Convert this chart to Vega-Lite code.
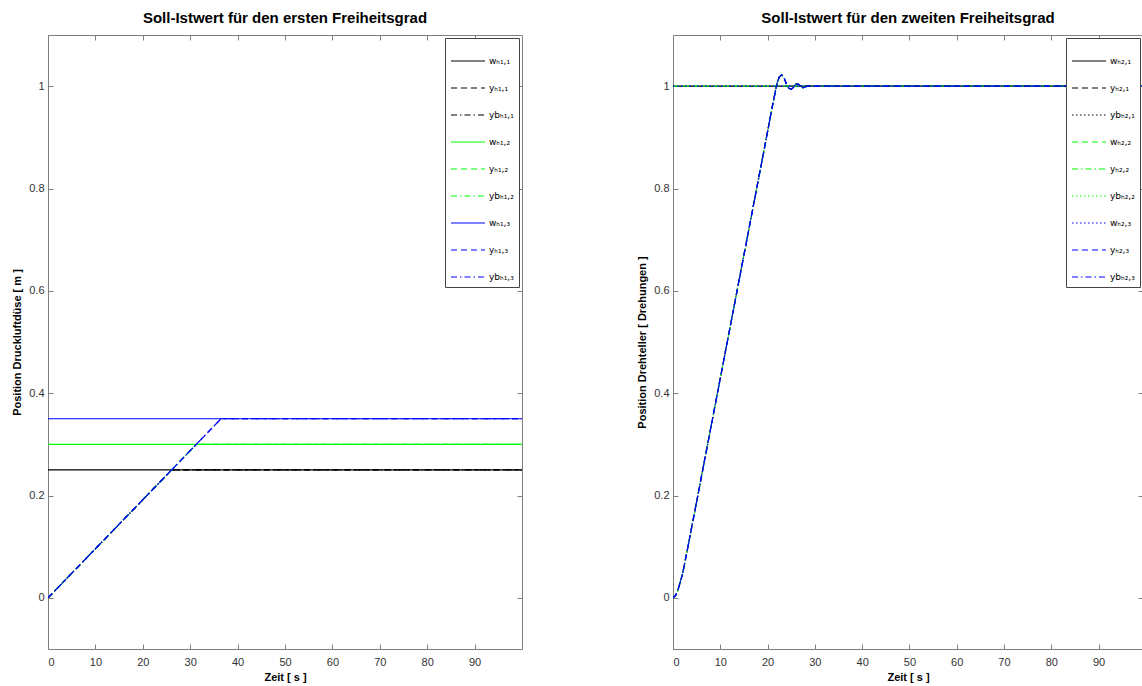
{
  "$schema": "https://vega.github.io/schema/vega-lite/v6.json",
  "background": "white",
  "padding": {"left": 11, "top": 10, "right": 0, "bottom": 0},
  "spacing": 113,
  "config": {
    "font": "Liberation Sans",
    "view": {"stroke": "#7f7f7f", "strokeWidth": 1},
    "axis": {"domain": false, "grid": false, "labelFont": "Liberation Sans", "labelFontSize": 11, "labelColor": "#333333", "tickColor": "#7f7f7f", "tickSize": -5, "labelPadding": 9, "titleFont": "Liberation Sans", "titleFontSize": 11, "titleFontWeight": "bold", "titleColor": "#000000", "titlePadding": 6},
    "axisX": {"labelPadding": 12, "titlePadding": 4},
    "title": {"fontSize": 15, "fontWeight": "bold", "font": "Liberation Sans", "color": "#000000", "offset": 9},
    "legend": {"orient": "top-right", "offset": 3, "symbolType": "stroke", "symbolSize": 1156, "symbolStrokeWidth": 1.2, "symbolOpacity": 1, "labelFont": "DejaVu Sans", "labelFontSize": 9, "labelColor": "#000000", "strokeColor": "#444444", "fillColor": "white", "padding": 5, "rowPadding": 4, "labelOffset": 3}
  },
  "datasets": {
    "left": [
      {"s": "wₕ₁,₁", "t": 0, "v": 0.25}, {"s": "wₕ₁,₁", "t": 100, "v": 0.25},
      {"s": "yₕ₁,₁", "t": 0, "v": 0}, {"s": "yₕ₁,₁", "t": 26.1, "v": 0.25}, {"s": "yₕ₁,₁", "t": 100, "v": 0.25},
      {"s": "ybₕ₁,₁", "t": 0, "v": 0}, {"s": "ybₕ₁,₁", "t": 26.1, "v": 0.25}, {"s": "ybₕ₁,₁", "t": 100, "v": 0.25},
      {"s": "wₕ₁,₂", "t": 0, "v": 0.3}, {"s": "wₕ₁,₂", "t": 100, "v": 0.3},
      {"s": "yₕ₁,₂", "t": 0, "v": 0}, {"s": "yₕ₁,₂", "t": 31.3, "v": 0.3}, {"s": "yₕ₁,₂", "t": 100, "v": 0.3},
      {"s": "ybₕ₁,₂", "t": 0, "v": 0}, {"s": "ybₕ₁,₂", "t": 31.3, "v": 0.3}, {"s": "ybₕ₁,₂", "t": 100, "v": 0.3},
      {"s": "wₕ₁,₃", "t": 0, "v": 0.35}, {"s": "wₕ₁,₃", "t": 100, "v": 0.35},
      {"s": "yₕ₁,₃", "t": 0, "v": 0}, {"s": "yₕ₁,₃", "t": 36.5, "v": 0.35}, {"s": "yₕ₁,₃", "t": 100, "v": 0.35},
      {"s": "ybₕ₁,₃", "t": 0, "v": 0}, {"s": "ybₕ₁,₃", "t": 36.5, "v": 0.35}, {"s": "ybₕ₁,₃", "t": 100, "v": 0.35}
    ],
    "right": [
      {"s": "wₕ₂,₁", "t": 0, "v": 1}, {"s": "wₕ₂,₁", "t": 100, "v": 1},
      {"s": "wₕ₂,₂", "t": 0, "v": 1}, {"s": "wₕ₂,₂", "t": 100, "v": 1},
      {"s": "wₕ₂,₃", "t": 0, "v": 1}, {"s": "wₕ₂,₃", "t": 100, "v": 1},
      {"s": "yₕ₂,₁", "t": 0, "v": 0}, {"s": "yₕ₂,₁", "t": 0.5, "v": 0.004}, {"s": "yₕ₂,₁", "t": 1, "v": 0.014}, {"s": "yₕ₂,₁", "t": 2, "v": 0.046}, {"s": "yₕ₂,₁", "t": 3, "v": 0.092}, {"s": "yₕ₂,₁", "t": 5, "v": 0.188}, {"s": "yₕ₂,₁", "t": 10, "v": 0.429}, {"s": "yₕ₂,₁", "t": 15, "v": 0.67}, {"s": "yₕ₂,₁", "t": 20, "v": 0.911}, {"s": "yₕ₂,₁", "t": 21, "v": 0.96}, {"s": "yₕ₂,₁", "t": 22, "v": 1.006}, {"s": "yₕ₂,₁", "t": 22.5, "v": 1.018}, {"s": "yₕ₂,₁", "t": 23, "v": 1.022}, {"s": "yₕ₂,₁", "t": 23.5, "v": 1.016}, {"s": "yₕ₂,₁", "t": 24, "v": 1.004}, {"s": "yₕ₂,₁", "t": 24.5, "v": 0.996}, {"s": "yₕ₂,₁", "t": 25, "v": 0.994}, {"s": "yₕ₂,₁", "t": 25.5, "v": 0.998}, {"s": "yₕ₂,₁", "t": 26, "v": 1.004}, {"s": "yₕ₂,₁", "t": 26.5, "v": 1.004}, {"s": "yₕ₂,₁", "t": 27, "v": 1.0}, {"s": "yₕ₂,₁", "t": 27.5, "v": 0.997}, {"s": "yₕ₂,₁", "t": 28, "v": 0.999}, {"s": "yₕ₂,₁", "t": 29, "v": 1.001}, {"s": "yₕ₂,₁", "t": 30, "v": 1.0}, {"s": "yₕ₂,₁", "t": 100, "v": 1.0},
      {"s": "ybₕ₂,₁", "t": 0, "v": 0}, {"s": "ybₕ₂,₁", "t": 0.5, "v": 0.004}, {"s": "ybₕ₂,₁", "t": 1, "v": 0.014}, {"s": "ybₕ₂,₁", "t": 2, "v": 0.046}, {"s": "ybₕ₂,₁", "t": 3, "v": 0.092}, {"s": "ybₕ₂,₁", "t": 5, "v": 0.188}, {"s": "ybₕ₂,₁", "t": 10, "v": 0.429}, {"s": "ybₕ₂,₁", "t": 15, "v": 0.67}, {"s": "ybₕ₂,₁", "t": 20, "v": 0.911}, {"s": "ybₕ₂,₁", "t": 21, "v": 0.96}, {"s": "ybₕ₂,₁", "t": 22, "v": 1.006}, {"s": "ybₕ₂,₁", "t": 22.5, "v": 1.018}, {"s": "ybₕ₂,₁", "t": 23, "v": 1.022}, {"s": "ybₕ₂,₁", "t": 23.5, "v": 1.016}, {"s": "ybₕ₂,₁", "t": 24, "v": 1.004}, {"s": "ybₕ₂,₁", "t": 24.5, "v": 0.996}, {"s": "ybₕ₂,₁", "t": 25, "v": 0.994}, {"s": "ybₕ₂,₁", "t": 25.5, "v": 0.998}, {"s": "ybₕ₂,₁", "t": 26, "v": 1.004}, {"s": "ybₕ₂,₁", "t": 26.5, "v": 1.004}, {"s": "ybₕ₂,₁", "t": 27, "v": 1.0}, {"s": "ybₕ₂,₁", "t": 27.5, "v": 0.997}, {"s": "ybₕ₂,₁", "t": 28, "v": 0.999}, {"s": "ybₕ₂,₁", "t": 29, "v": 1.001}, {"s": "ybₕ₂,₁", "t": 30, "v": 1.0}, {"s": "ybₕ₂,₁", "t": 100, "v": 1.0},
      {"s": "yₕ₂,₂", "t": 0, "v": 0}, {"s": "yₕ₂,₂", "t": 0.5, "v": 0.004}, {"s": "yₕ₂,₂", "t": 1, "v": 0.014}, {"s": "yₕ₂,₂", "t": 2, "v": 0.046}, {"s": "yₕ₂,₂", "t": 3, "v": 0.092}, {"s": "yₕ₂,₂", "t": 5, "v": 0.188}, {"s": "yₕ₂,₂", "t": 10, "v": 0.429}, {"s": "yₕ₂,₂", "t": 15, "v": 0.67}, {"s": "yₕ₂,₂", "t": 20, "v": 0.911}, {"s": "yₕ₂,₂", "t": 21, "v": 0.96}, {"s": "yₕ₂,₂", "t": 22, "v": 1.006}, {"s": "yₕ₂,₂", "t": 22.5, "v": 1.018}, {"s": "yₕ₂,₂", "t": 23, "v": 1.022}, {"s": "yₕ₂,₂", "t": 23.5, "v": 1.016}, {"s": "yₕ₂,₂", "t": 24, "v": 1.004}, {"s": "yₕ₂,₂", "t": 24.5, "v": 0.996}, {"s": "yₕ₂,₂", "t": 25, "v": 0.994}, {"s": "yₕ₂,₂", "t": 25.5, "v": 0.998}, {"s": "yₕ₂,₂", "t": 26, "v": 1.004}, {"s": "yₕ₂,₂", "t": 26.5, "v": 1.004}, {"s": "yₕ₂,₂", "t": 27, "v": 1.0}, {"s": "yₕ₂,₂", "t": 27.5, "v": 0.997}, {"s": "yₕ₂,₂", "t": 28, "v": 0.999}, {"s": "yₕ₂,₂", "t": 29, "v": 1.001}, {"s": "yₕ₂,₂", "t": 30, "v": 1.0}, {"s": "yₕ₂,₂", "t": 100, "v": 1.0},
      {"s": "ybₕ₂,₂", "t": 0, "v": 0}, {"s": "ybₕ₂,₂", "t": 0.5, "v": 0.004}, {"s": "ybₕ₂,₂", "t": 1, "v": 0.014}, {"s": "ybₕ₂,₂", "t": 2, "v": 0.046}, {"s": "ybₕ₂,₂", "t": 3, "v": 0.092}, {"s": "ybₕ₂,₂", "t": 5, "v": 0.188}, {"s": "ybₕ₂,₂", "t": 10, "v": 0.429}, {"s": "ybₕ₂,₂", "t": 15, "v": 0.67}, {"s": "ybₕ₂,₂", "t": 20, "v": 0.911}, {"s": "ybₕ₂,₂", "t": 21, "v": 0.96}, {"s": "ybₕ₂,₂", "t": 22, "v": 1.006}, {"s": "ybₕ₂,₂", "t": 22.5, "v": 1.018}, {"s": "ybₕ₂,₂", "t": 23, "v": 1.022}, {"s": "ybₕ₂,₂", "t": 23.5, "v": 1.016}, {"s": "ybₕ₂,₂", "t": 24, "v": 1.004}, {"s": "ybₕ₂,₂", "t": 24.5, "v": 0.996}, {"s": "ybₕ₂,₂", "t": 25, "v": 0.994}, {"s": "ybₕ₂,₂", "t": 25.5, "v": 0.998}, {"s": "ybₕ₂,₂", "t": 26, "v": 1.004}, {"s": "ybₕ₂,₂", "t": 26.5, "v": 1.004}, {"s": "ybₕ₂,₂", "t": 27, "v": 1.0}, {"s": "ybₕ₂,₂", "t": 27.5, "v": 0.997}, {"s": "ybₕ₂,₂", "t": 28, "v": 0.999}, {"s": "ybₕ₂,₂", "t": 29, "v": 1.001}, {"s": "ybₕ₂,₂", "t": 30, "v": 1.0}, {"s": "ybₕ₂,₂", "t": 100, "v": 1.0},
      {"s": "yₕ₂,₃", "t": 0, "v": 0}, {"s": "yₕ₂,₃", "t": 0.5, "v": 0.004}, {"s": "yₕ₂,₃", "t": 1, "v": 0.014}, {"s": "yₕ₂,₃", "t": 2, "v": 0.046}, {"s": "yₕ₂,₃", "t": 3, "v": 0.092}, {"s": "yₕ₂,₃", "t": 5, "v": 0.188}, {"s": "yₕ₂,₃", "t": 10, "v": 0.429}, {"s": "yₕ₂,₃", "t": 15, "v": 0.67}, {"s": "yₕ₂,₃", "t": 20, "v": 0.911}, {"s": "yₕ₂,₃", "t": 21, "v": 0.96}, {"s": "yₕ₂,₃", "t": 22, "v": 1.006}, {"s": "yₕ₂,₃", "t": 22.5, "v": 1.018}, {"s": "yₕ₂,₃", "t": 23, "v": 1.022}, {"s": "yₕ₂,₃", "t": 23.5, "v": 1.016}, {"s": "yₕ₂,₃", "t": 24, "v": 1.004}, {"s": "yₕ₂,₃", "t": 24.5, "v": 0.996}, {"s": "yₕ₂,₃", "t": 25, "v": 0.994}, {"s": "yₕ₂,₃", "t": 25.5, "v": 0.998}, {"s": "yₕ₂,₃", "t": 26, "v": 1.004}, {"s": "yₕ₂,₃", "t": 26.5, "v": 1.004}, {"s": "yₕ₂,₃", "t": 27, "v": 1.0}, {"s": "yₕ₂,₃", "t": 27.5, "v": 0.997}, {"s": "yₕ₂,₃", "t": 28, "v": 0.999}, {"s": "yₕ₂,₃", "t": 29, "v": 1.001}, {"s": "yₕ₂,₃", "t": 30, "v": 1.0}, {"s": "yₕ₂,₃", "t": 100, "v": 1.0},
      {"s": "ybₕ₂,₃", "t": 0, "v": 0}, {"s": "ybₕ₂,₃", "t": 0.5, "v": 0.004}, {"s": "ybₕ₂,₃", "t": 1, "v": 0.014}, {"s": "ybₕ₂,₃", "t": 2, "v": 0.046}, {"s": "ybₕ₂,₃", "t": 3, "v": 0.092}, {"s": "ybₕ₂,₃", "t": 5, "v": 0.188}, {"s": "ybₕ₂,₃", "t": 10, "v": 0.429}, {"s": "ybₕ₂,₃", "t": 15, "v": 0.67}, {"s": "ybₕ₂,₃", "t": 20, "v": 0.911}, {"s": "ybₕ₂,₃", "t": 21, "v": 0.96}, {"s": "ybₕ₂,₃", "t": 22, "v": 1.006}, {"s": "ybₕ₂,₃", "t": 22.5, "v": 1.018}, {"s": "ybₕ₂,₃", "t": 23, "v": 1.022}, {"s": "ybₕ₂,₃", "t": 23.5, "v": 1.016}, {"s": "ybₕ₂,₃", "t": 24, "v": 1.004}, {"s": "ybₕ₂,₃", "t": 24.5, "v": 0.996}, {"s": "ybₕ₂,₃", "t": 25, "v": 0.994}, {"s": "ybₕ₂,₃", "t": 25.5, "v": 0.998}, {"s": "ybₕ₂,₃", "t": 26, "v": 1.004}, {"s": "ybₕ₂,₃", "t": 26.5, "v": 1.004}, {"s": "ybₕ₂,₃", "t": 27, "v": 1.0}, {"s": "ybₕ₂,₃", "t": 27.5, "v": 0.997}, {"s": "ybₕ₂,₃", "t": 28, "v": 0.999}, {"s": "ybₕ₂,₃", "t": 29, "v": 1.001}, {"s": "ybₕ₂,₃", "t": 30, "v": 1.0}, {"s": "ybₕ₂,₃", "t": 100, "v": 1.0}
    ]
  },
  "resolve": {"scale": {"color": "independent", "strokeDash": "independent", "x": "independent", "y": "independent"}},
  "hconcat": [
    {
      "width": 474,
      "height": 614,
      "title": "Soll-Istwert für den ersten Freiheitsgrad",
      "data": {"name": "left"},
      "resolve": {"axis": {"x": "independent", "y": "independent"}},
      "layer": [
        {
          "mark": {"type": "line", "clip": true, "strokeWidth": 1.2},
          "encoding": {
            "x": {"field": "t", "type": "quantitative", "scale": {"domain": [0, 100], "nice": false}, "axis": {"orient": "bottom", "values": [0, 10, 20, 30, 40, 50, 60, 70, 80, 90], "title": "Zeit [ s ]"}},
            "y": {"field": "v", "type": "quantitative", "scale": {"domain": [-0.1, 1.1], "nice": false, "zero": false}, "axis": {"orient": "left", "values": [0, 0.2, 0.4, 0.6, 0.8, 1], "format": "~g", "title": "Position Druckluftdüse [ m ]"}},
            "color": {"field": "s", "type": "nominal", "scale": {"domain": ["wₕ₁,₁", "yₕ₁,₁", "ybₕ₁,₁", "wₕ₁,₂", "yₕ₁,₂", "ybₕ₁,₂", "wₕ₁,₃", "yₕ₁,₃", "ybₕ₁,₃"], "range": ["#000000", "#000000", "#000000", "#00ff00", "#00ff00", "#00ff00", "#0000ff", "#0000ff", "#0000ff"]}, "legend": {"title": null}},
            "strokeDash": {"field": "s", "type": "nominal", "scale": {"domain": ["wₕ₁,₁", "yₕ₁,₁", "ybₕ₁,₁", "wₕ₁,₂", "yₕ₁,₂", "ybₕ₁,₂", "wₕ₁,₃", "yₕ₁,₃", "ybₕ₁,₃"], "range": [[1, 0], [6, 4], [6, 3, 1.5, 3], [1, 0], [6, 4], [6, 3, 1.5, 3], [1, 0], [6, 4], [6, 3, 1.5, 3]]}, "legend": {"title": null}}
          }
        },
        {
          "mark": {"type": "line", "opacity": 0},
          "encoding": {
            "x": {"field": "t", "type": "quantitative", "axis": {"orient": "top", "values": [0, 10, 20, 30, 40, 50, 60, 70, 80, 90], "labels": false, "title": null}},
            "y": {"field": "v", "type": "quantitative", "axis": {"orient": "right", "values": [0, 0.2, 0.4, 0.6, 0.8, 1], "labels": false, "title": null}}
          }
        }
      ]
    },
    {
      "width": 470,
      "height": 614,
      "title": "Soll-Istwert für den zweiten Freiheitsgrad",
      "data": {"name": "right"},
      "resolve": {"axis": {"x": "independent", "y": "independent"}},
      "layer": [
        {
          "mark": {"type": "line", "clip": true, "strokeWidth": 1.2},
          "encoding": {
            "x": {"field": "t", "type": "quantitative", "scale": {"domain": [0, 99.4], "nice": false}, "axis": {"orient": "bottom", "values": [0, 10, 20, 30, 40, 50, 60, 70, 80, 90], "title": "Zeit [ s ]"}},
            "y": {"field": "v", "type": "quantitative", "scale": {"domain": [-0.1, 1.1], "nice": false, "zero": false}, "axis": {"orient": "left", "values": [0, 0.2, 0.4, 0.6, 0.8, 1], "format": "~g", "title": "Position Drehteller [ Drehungen ]"}},
            "color": {"field": "s", "type": "nominal", "scale": {"domain": ["wₕ₂,₁", "yₕ₂,₁", "ybₕ₂,₁", "wₕ₂,₂", "yₕ₂,₂", "ybₕ₂,₂", "wₕ₂,₃", "yₕ₂,₃", "ybₕ₂,₃"], "range": ["#000000", "#000000", "#000000", "#00ff00", "#00ff00", "#00ff00", "#0000ff", "#0000ff", "#0000ff"]}, "legend": {"title": null}},
            "strokeDash": {"field": "s", "type": "nominal", "scale": {"domain": ["wₕ₂,₁", "yₕ₂,₁", "ybₕ₂,₁", "wₕ₂,₂", "yₕ₂,₂", "ybₕ₂,₂", "wₕ₂,₃", "yₕ₂,₃", "ybₕ₂,₃"], "range": [[1, 0], [6, 4], [1.5, 2.5], [6, 4], [6, 3, 1.5, 3], [1.5, 2.5], [1.5, 2.5], [6, 4], [6, 3, 1.5, 3]]}, "legend": {"title": null}}
          }
        },
        {
          "mark": {"type": "line", "opacity": 0},
          "encoding": {
            "x": {"field": "t", "type": "quantitative", "axis": {"orient": "top", "values": [0, 10, 20, 30, 40, 50, 60, 70, 80, 90], "labels": false, "title": null}},
            "y": {"field": "v", "type": "quantitative", "axis": {"orient": "right", "values": [0, 0.2, 0.4, 0.6, 0.8, 1], "labels": false, "title": null}}
          }
        }
      ]
    }
  ]
}
